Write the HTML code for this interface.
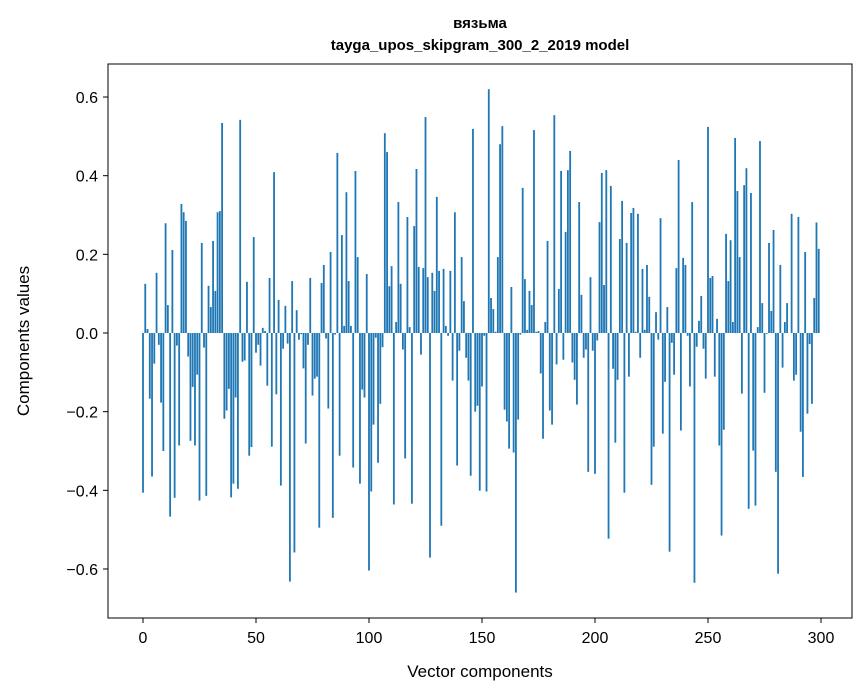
<!DOCTYPE html>
<html><head><meta charset="utf-8"><style>
body{margin:0;background:#fff}
svg{display:block;font-family:"Liberation Sans","DejaVu Sans",sans-serif}
</style></head><body>
<svg id="chart" width="867" height="696">
<rect width="867" height="696" fill="#fff"/>
<text x="480" y="28" text-anchor="middle" font-size="15" font-weight="bold">вязьма</text>
<text x="480" y="50" text-anchor="middle" font-size="15" font-weight="bold">tayga_upos_skipgram_300_2_2019 model</text>
<g id="bars"></g>
<g id="axes"></g>
<rect x="108" y="64" width="744" height="554" fill="none" stroke="#000" stroke-width="1"/>
<text x="480" y="677" text-anchor="middle" font-size="17">Vector components</text>
<text transform="translate(29,341) rotate(-90)" text-anchor="middle" font-size="17">Components values</text>
</svg>
<script>
const values = [
-0.406,0.125,0.01,-0.167,-0.365,-0.078,0.153,-0.03,-0.177,-0.30,
0.279,0.071,-0.467,0.211,-0.419,-0.032,-0.286,0.328,0.307,0.285,
-0.06,-0.274,-0.137,-0.286,-0.106,-0.426,0.229,-0.037,-0.414,0.12,
0.066,0.234,0.107,0.307,0.31,0.534,-0.218,-0.197,-0.142,-0.418,
-0.383,-0.164,-0.396,0.542,-0.073,-0.07,0.13,-0.312,-0.29,0.244,
-0.05,-0.03,-0.083,0.013,0.005,-0.134,0.14,-0.289,0.409,-0.156,
0.084,-0.388,-0.04,0.069,-0.027,-0.632,0.132,-0.558,0.058,-0.017,
-0.003,-0.09,-0.281,-0.03,0.14,-0.159,-0.116,-0.111,-0.495,0.127,
0.173,-0.014,-0.192,0.206,-0.47,-0.004,0.458,-0.312,0.249,0.018,
0.358,0.132,0.018,-0.342,0.412,0.193,-0.383,-0.144,-0.164,0.15,
-0.604,-0.403,-0.233,-0.012,-0.33,-0.18,-0.036,0.508,0.46,0.119,
0.17,-0.436,0.028,0.333,0.125,-0.042,-0.319,0.295,0.015,-0.434,
0.272,0.417,0.168,-0.055,0.165,0.549,0.142,-0.571,0.153,0.107,
0.346,0.158,-0.49,0.163,0.018,-0.007,0.158,-0.121,0.307,-0.337,
-0.045,0.193,0.081,-0.063,-0.121,-0.363,0.519,-0.2,-0.185,-0.401,
-0.136,-0.007,-0.403,0.62,0.089,0.061,0.003,0.193,0.48,0.526,
-0.195,-0.225,-0.294,0.117,-0.304,-0.66,-0.22,-0.004,0.369,0.137,
0.008,0.107,0.071,0.516,0.003,0.005,-0.103,-0.269,0.028,0.234,
-0.197,-0.233,0.554,-0.08,0.112,0.412,-0.068,0.257,0.414,0.463,
-0.075,-0.119,-0.182,0.333,0.097,-0.063,-0.042,-0.353,0.142,-0.045,
-0.358,-0.019,0.282,0.407,0.122,0.414,-0.523,0.374,-0.091,-0.279,
-0.119,0.239,0.336,-0.406,0.229,-0.111,0.305,0.318,0.003,0.303,
-0.063,0.163,0.008,0.173,0.092,-0.386,-0.289,0.053,-0.017,0.292,
-0.256,-0.124,0.066,-0.556,-0.025,-0.106,0.165,0.44,-0.248,0.191,
0.173,-0.007,-0.136,0.333,-0.635,-0.035,0.031,0.094,-0.04,-0.116,
0.524,0.14,0.145,-0.111,0.036,-0.286,-0.515,-0.246,0.252,0.132,
0.236,0.028,0.496,0.361,0.193,-0.154,0.376,0.419,-0.447,0.356,
-0.299,-0.439,0.015,0.488,0.076,-0.152,-0.002,0.229,0.056,0.262,
-0.353,-0.612,0.173,-0.088,0.028,0.076,0.0,0.303,-0.121,-0.106,
0.295,-0.251,-0.366,0.206,-0.205,-0.028,-0.18,0.089,0.281,0.214
];
const xTicks = [0,50,100,150,200,250,300];
const yTicks = [-0.6,-0.4,-0.2,0.0,0.2,0.4,0.6];

const NS = "http://www.w3.org/2000/svg";
const xScale = v => 143 + v * 2.26;
const yScale = v => 333 - v * 393.3;
const bw = 2.26 * 0.8;

const barsG = document.getElementById('bars');
values.forEach((v, i) => {
  const r = document.createElementNS(NS, 'rect');
  const y0 = yScale(0), y1 = yScale(v);
  r.setAttribute('x', xScale(i) - bw / 2);
  r.setAttribute('y', Math.min(y0, y1));
  r.setAttribute('width', bw);
  r.setAttribute('height', Math.max(Math.abs(y1 - y0), 0.01));
  r.setAttribute('fill', '#1f77b4');
  
  
  barsG.appendChild(r);
});

const axesG = document.getElementById('axes');
xTicks.forEach(t => {
  const l = document.createElementNS(NS, 'line');
  l.setAttribute('x1', xScale(t)); l.setAttribute('x2', xScale(t));
  l.setAttribute('y1', 618); l.setAttribute('y2', 623);
  l.setAttribute('stroke', '#000');
  
  
  axesG.appendChild(l);
  const tx = document.createElementNS(NS, 'text');
  tx.setAttribute('x', xScale(t)); tx.setAttribute('y', 643);
  tx.setAttribute('text-anchor', 'middle'); tx.setAttribute('font-size', '16');
  tx.textContent = String(t);
  
  
  axesG.appendChild(tx);
});
yTicks.forEach(t => {
  const l = document.createElementNS(NS, 'line');
  l.setAttribute('x1', 103); l.setAttribute('x2', 108);
  l.setAttribute('y1', yScale(t)); l.setAttribute('y2', yScale(t));
  l.setAttribute('stroke', '#000');
  
  
  axesG.appendChild(l);
  const tx = document.createElementNS(NS, 'text');
  tx.setAttribute('x', 98); tx.setAttribute('y', yScale(t) + 6);
  tx.setAttribute('text-anchor', 'end'); tx.setAttribute('font-size', '16');
  tx.textContent = (t < 0 ? '\u2212' : '') + Math.abs(t).toFixed(1);
  
  
  axesG.appendChild(tx);
});
</script>
</body></html>
